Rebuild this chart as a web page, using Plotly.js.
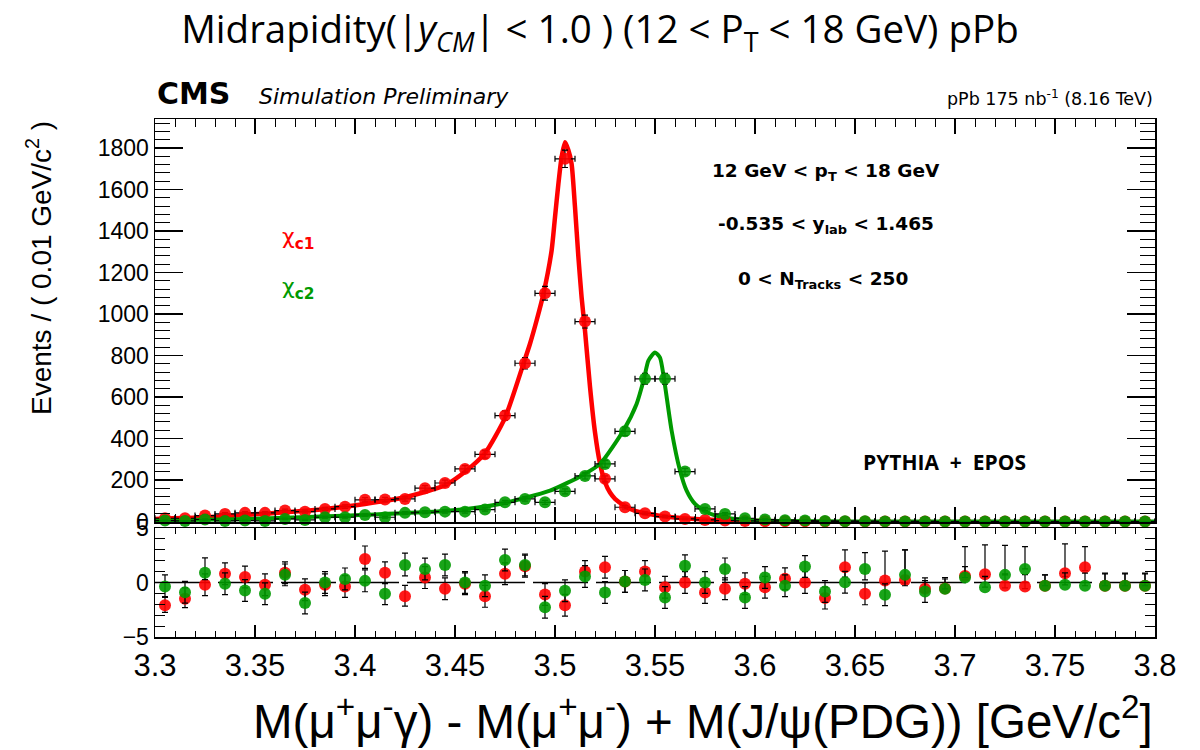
<!DOCTYPE html>
<html>
<head>
<meta charset="utf-8">
<script src="https://cdn.plot.ly/plotly-3.0.1.min.js"></script>
<style>html,body{margin:0;padding:0;background:#fff;}</style>
</head>
<body>
<div id="chart" style="width:1200px;height:750px;"></div>
<script>
// Bin centres of M(mu mu gamma) - M(mu mu) + M(J/psi) [GeV/c^2]
const massBins = [3.305,3.315,3.325,3.335,3.345,3.355,3.365,3.375,3.385,3.395,
                  3.405,3.415,3.425,3.435,3.445,3.455,3.465,3.475,3.485,3.495,
                  3.505,3.515,3.525,3.535,3.545,3.555,3.565,3.575,3.585,3.595,
                  3.605,3.615,3.625,3.635,3.645,3.655,3.665,3.675,3.685,3.695,
                  3.705,3.715,3.725,3.735,3.745,3.755,3.765,3.775,3.785,3.795];

// Events per bin
const chic1Counts = [16,16,29,37,42,42,53,48,61,72,
                     105,106,109,161,186,254,324,511,763,1100,
                     1748,964,206,69,40,24,13,8,5,3,
                     2,2,1,0,1,0,0,0,0,0,
                     0,0,0,0,0,0,0,0,0,0];
const chic2Counts = [5,3,10,3,5,3,13,8,21,21,
                     32,21,42,45,48,48,58,93,109,93,
                     146,220,278,435,688,688,241,61,37,16,
                     10,7,5,3,2,2,1,1,1,0,
                     0,0,0,0,0,0,0,0,0,0];

// Fit curves
const chic1FitX = [3.300,3.325,3.345,3.365,3.385,3.405,3.425,3.445,3.455,3.465,
                   3.475,3.4842,3.4875,3.4908,3.4942,3.4983,3.5000,3.5017,3.5033,3.5050,
                   3.5067,3.5083,3.5100,3.5117,3.5133,3.5150,3.5175,3.5200,3.5225,3.5250,
                   3.5275,3.5300,3.5350,3.5400,3.5500,3.5600,3.5700,3.5800,3.5900,3.6000,
                   3.6100,3.6200];
const chic1FitY = [13,21,32,45,61,85,117,175,240,330,
                   500,760,857,969,1097,1306,1467,1628,1756,1828,
                   1790,1724,1515,1274,1081,920,650,430,280,190,
                   140,110,75,52,32,20,13,8,5,3,
                   2,1];
const chic2FitX = [3.300,3.3475,3.3975,3.4475,3.4725,3.4975,3.514,3.5225,3.5342,3.5408,
                   3.5445,3.5467,3.5500,3.5525,3.5545,3.5583,3.5625,3.5658,3.5700,3.5758,
                   3.5842,3.5958,3.612,3.650,3.800];
const chic2FitY = [5,13,29,53,85,149,225,278,439,567,
                   688,776,815,790,688,439,246,149,85,45,
                   21,8,3,1,0];

// Pulls
const chic1Pull = [-2.09,-1.5,-0.2,0.8,0.5,-0.2,0.9,-0.67,-0.2,-0.36,
                   2.15,0.9,-1.27,0.45,-0.58,-0.12,-1.27,0.8,1.5,-1.1,
                   -2.09,1.0,1.4,0.1,1.0,-0.43,0,-0.92,-0.58,-0.12,
                   -0.43,0.34,0,-1.43,1.4,-1.04,0.18,0.24,-0.58,-0.55,
                   0.6,0.76,-0.3,-0.37,-0.3,0.85,1.4,-0.3,-0.3,-0.3];
const chic1PullErrUp = [0.8,1,1,1,1,1,1,1,1,1,
                        1.2,1,1,1,1,1,1,1,1,1,
                        1,1,1,1,1,1,1,1,1,1,
                        1,1,1,1,1.6,1,2.7,2.75,1,1,
                        2.7,2.7,1.1,1.1,1,2.7,1.9,1.1,1.1,1.1];
const chic1PullErrDown = [0.65,0.8,1,1,1,1,1,1,1,1,
                          0.85,1,0.9,1,1,1,1,1,1,1,
                          1,1,1,1,1,1,1,1,1,1,
                          1,1,1,1,0.9,1,0.3,0.3,0.3,0.3,
                          0.3,0.3,0.2,0.2,0,0.3,0.3,0,0,0];
const chic2Pull = [-0.36,-0.9,0.9,-0.12,-0.73,-1.03,0.7,-1.88,0,0.33,
                   0.15,-1.03,1.6,1.24,1.6,0,-0.3,2.06,1.6,-2.27,
                   -0.76,0.55,-0.92,0.1,0.24,-1.37,1.53,0,1.25,-1.37,
                   0.46,-0.3,1.47,-0.82,0.03,1.25,-1.13,0.7,-0.82,-0.58,
                   0.46,-0.43,0.7,1.25,-0.3,-0.21,-0.3,-0.3,-0.3,-0.3];
const chic2PullErrUp = [1.06,1,1.36,1,1,1,1,1,1,1,
                        1,1,1.1,1,1,1,1,1,1,1,
                        1,1,1,1,1,1,1,1,1,1,
                        1,1,1,1,1,1.5,1,2.3,1,0.9,
                        1,1,2.7,2.05,1,1.1,1.16,1.16,1.16,1.16];
const chic2PullErrDown = [1,1,0.64,1,1,1,1,1,1,1,
                          1,1,1,1,1,1,1,1,1,1,
                          1,1,1,1,1,1,1,1,1,1,
                          1,1,1,1,1,1,1,1,1,0,
                          0,0,0,0,0,0,0,0,0,0];

const RED = '#ff0000';
const GREEN = '#009a00';
const ROOTFONT = 'DejaVu Sans';
const HELV = 'Liberation Sans';

const fitRed = {x: chic1FitX, y: chic1FitY, xaxis:'x', yaxis:'y', mode:'lines',
  line:{color:RED, width:4.5, shape:'spline', smoothing:0.6}, hoverinfo:'skip'};
const fitGreen = {x: chic2FitX, y: chic2FitY, xaxis:'x', yaxis:'y', mode:'lines',
  line:{color:GREEN, width:4, shape:'spline', smoothing:0.6}, hoverinfo:'skip'};

function dataTrace(y, color) {
  return {x: massBins, y: y, xaxis:'x', yaxis:'y', mode:'markers', cliponaxis:false,
    marker:{color:color, size:12, symbol:'circle', opacity:0.9},
    error_x:{type:'constant', value:0.005, width:3, thickness:1.2, color:'black'},
    error_y:{type:'sqrt', width:3, thickness:1.2, color:'black'}};
}
function pullTrace(y, up, down, color) {
  return {x: massBins, y: y, xaxis:'x2', yaxis:'y2', mode:'markers', cliponaxis:false,
    marker:{color:color, size:12, symbol:'circle', opacity:0.9},
    error_y:{type:'data', symmetric:false, array:up, arrayminus:down, width:3, thickness:1.2, color:'black'}};
}

const traces = [
  fitRed, fitGreen,
  dataTrace(chic1Counts, RED), dataTrace(chic2Counts, GREEN),
  pullTrace(chic1Pull, chic1PullErrUp, chic1PullErrDown, RED),
  pullTrace(chic2Pull, chic2PullErrUp, chic2PullErrDown, GREEN)
];

const axisCommon = {showline:true, linecolor:'black', linewidth:1.5, mirror:'ticks',
  ticks:'inside', tickcolor:'black', tickwidth:1.2, showgrid:false, zeroline:false};

const layout = {
  width:1200, height:750,
  margin:{l:155, r:45, t:119, b:113},
  paper_bgcolor:'white', plot_bgcolor:'white',
  showlegend:false,
  title:{text:'Midrapidity(|<i>y</i><sub><i>CM</i></sub>| < 1.0 ) (12 < P<sub>T</sub> < 18 GeV) pPb',
    x:0.5, xref:'container', xanchor:'center', y:0.96, yref:'container', yanchor:'middle',
    font:{family:'Open Sans', size:38.5, color:'black'}},
  xaxis: Object.assign({}, axisCommon, {domain:[0,1], anchor:'y', range:[3.3,3.8], tick0:3.3, dtick:0.05,
    ticklen:15, minor:{dtick:0.01, ticklen:8, ticks:'inside', tickcolor:'black', tickwidth:1},
    showticklabels:false}),
  yaxis: Object.assign({}, axisCommon, {domain:[0.222,1], anchor:'x', range:[-2,1940], tick0:0, dtick:200,
    ticklen:28, minor:{dtick:40, ticklen:15, ticks:'inside', tickcolor:'black', tickwidth:1},
    tickfont:{family:HELV, size:23, color:'black'}}),
  xaxis2: Object.assign({}, axisCommon, {domain:[0,1], anchor:'y2', matches:'x', range:[3.3,3.8], tick0:3.3, dtick:0.05,
    ticklen:12, minor:{dtick:0.01, ticklen:6, ticks:'inside', tickcolor:'black', tickwidth:1},
    tickfont:{family:HELV, size:31, color:'black'}}),
  yaxis2: Object.assign({}, axisCommon, {domain:[0,0.2104], anchor:'x2', range:[-5,5], tick0:0, dtick:5,
    ticklen:20, minor:{dtick:1, ticklen:10, ticks:'inside', tickcolor:'black', tickwidth:1},
    tickfont:{family:HELV, size:23, color:'black'}}),
  shapes:[
    {type:'line', xref:'x2', yref:'y2', x0:3.3, x1:3.8, y0:0, y1:0, layer:'below',
     line:{color:'black', width:1.5, dash:'55px,8px'}}
  ],
  annotations:[
    {text:'<b>CMS</b>', xref:'paper', yref:'paper', x:0, y:1.050, xanchor:'left', yanchor:'middle',
     showarrow:false, font:{family:ROOTFONT, size:30, color:'black'}},
    {text:'<i>Simulation Preliminary</i>', xref:'paper', yref:'paper', x:0.102, y:1.0425, xanchor:'left', yanchor:'middle',
     showarrow:false, font:{family:ROOTFONT, size:22, color:'black'}},
    {text:'pPb 175 nb<sup>-1</sup> (8.16 TeV)', xref:'paper', yref:'paper', x:1, y:1.0405, xanchor:'right', yanchor:'middle',
     showarrow:false, font:{family:ROOTFONT, size:17.5, color:'black'}},
    {text:'<b>12 GeV < p<sub>T</sub> < 18 GeV</b>', xref:'paper', yref:'paper', x:0.671, y:0.898, xanchor:'center', yanchor:'middle',
     showarrow:false, font:{family:ROOTFONT, size:18.5, color:'black'}},
    {text:'<b>-0.535 < y<sub>lab</sub> < 1.465</b>', xref:'paper', yref:'paper', x:0.671, y:0.795, xanchor:'center', yanchor:'middle',
     showarrow:false, font:{family:ROOTFONT, size:18.5, color:'black'}},
    {text:'<b>0 < N<sub>Tracks</sub> < 250</b>', xref:'paper', yref:'paper', x:0.668, y:0.690, xanchor:'center', yanchor:'middle',
     showarrow:false, font:{family:ROOTFONT, size:18.5, color:'black'}},
    {text:'χ<sub><b>c1</b></sub>', xref:'paper', yref:'paper', x:0.143, y:0.770, xanchor:'center', yanchor:'middle',
     showarrow:false, font:{family:ROOTFONT, size:22, color:RED}},
    {text:'χ<sub><b>c2</b></sub>', xref:'paper', yref:'paper', x:0.143, y:0.672, xanchor:'center', yanchor:'middle',
     showarrow:false, font:{family:ROOTFONT, size:22, color:GREEN}},
    {text:'<b>PYTHIA  +  EPOS</b>', xref:'paper', yref:'paper', x:0.789, y:0.338, xanchor:'center', yanchor:'middle',
     showarrow:false, font:{family:'Open Sans', size:21, color:'black'}},
    {text:'Events / ( 0.01 GeV/c<sup>2</sup> )', xref:'paper', yref:'paper', x:-0.116, y:1.0, xanchor:'center', yanchor:'top',
     textangle:-90, showarrow:false, font:{family:HELV, size:28, color:'black'}},
    {text:'M(μ<sup>+</sup>μ<sup>-</sup>γ) - M(μ<sup>+</sup>μ<sup>-</sup>) + M(J/ψ(PDG)) [GeV/c<sup>2</sup>]',
     xref:'paper', yref:'paper', x:1.0, y:-0.156, xanchor:'right', yanchor:'middle',
     showarrow:false, font:{family:HELV, size:47.5, color:'black'}}
  ]
};

Plotly.newPlot('chart', traces, layout, {staticPlot:true, displayModeBar:false});
</script>
</body>
</html>
